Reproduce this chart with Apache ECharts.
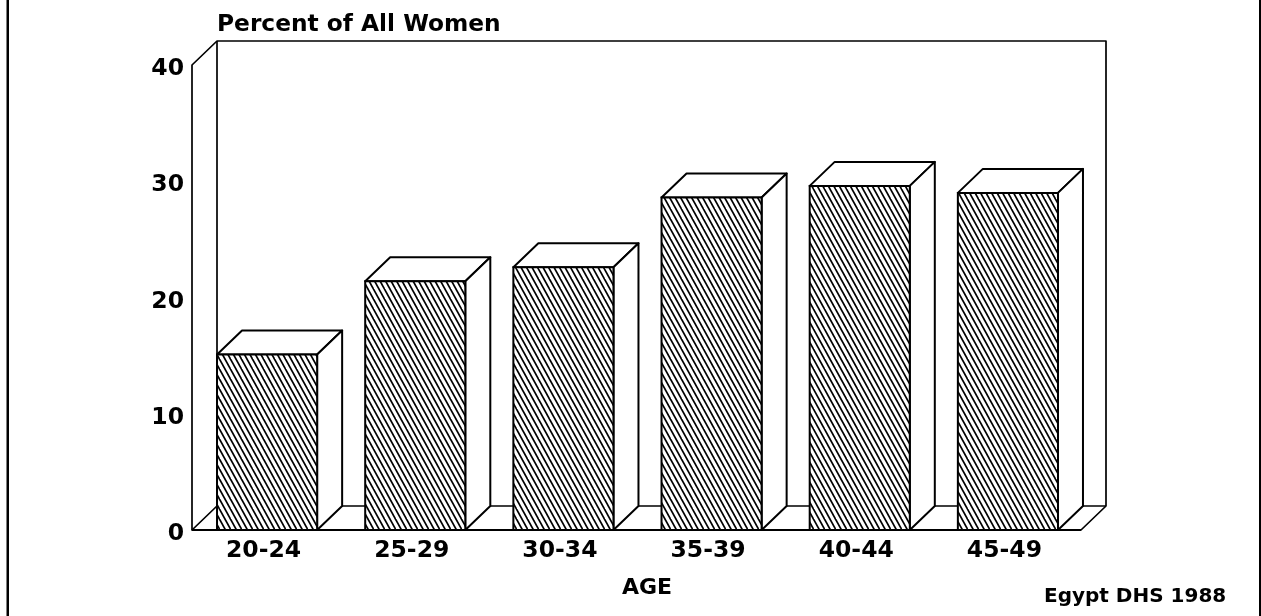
<!DOCTYPE html>
<html>
<head>
<meta charset="utf-8">
<style>html,body{margin:0;padding:0;background:#fff}#c{width:1261px;height:616px}</style>
<script src="https://cdn.jsdelivr.net/npm/echarts@6/dist/echarts.min.js"></script>
</head>
<body>
<div id="c"></div>
<script>
const categories = ['20-24', '25-29', '30-34', '35-39', '40-44', '45-49'];
const percentValues = [15.1, 21.4, 22.6, 28.6, 29.6, 29.0];
const yTicks = [0, 10, 20, 30, 40];
const yAxisTitle = 'Percent of All Women';
const xAxisTitle = 'AGE';
const sourceNote = 'Egypt DHS 1988';

const DEPTH_X = 25, DEPTH_Y = 24, BAR_RATIO = 100 / 148;
const FONT = '"DejaVu Sans", sans-serif';
const INK = '#000';

function hatch() {
  const s = 11, t = 20;
  const cv = document.createElement('canvas');
  cv.width = s; cv.height = t;
  const g = cv.getContext('2d');
  g.fillStyle = '#fff'; g.fillRect(0, 0, s, t);
  g.strokeStyle = '#000'; g.lineWidth = 1.7;
  for (let k = -4; k <= 4; k++) {
    const x = k * s / 2;
    g.beginPath(); g.moveTo(x - s, -t); g.lineTo(x + 2 * s, 2 * t); g.stroke();
  }
  return cv;
}
const hatchTile = hatch();

const chart = echarts.init(document.getElementById('c'), null, { renderer: 'canvas' });

function poly(points, fill, lineWidth) {
  return {
    type: 'polygon',
    shape: { points },
    style: { fill: fill || 'none', stroke: INK, lineWidth: lineWidth || 1.7, lineJoin: 'round' }
  };
}

function renderWall(params, api) {
  const band = api.size([1, 0])[0];
  const b = api.coord([0, 0]);
  const t = api.coord([0, yTicks[yTicks.length - 1]]);
  const l = b[0] - band / 2;
  const r = l + band * categories.length;
  const by = b[1], ty = t[1];
  return {
    type: 'group',
    children: [
      poly([[l, by], [l, ty], [l + DEPTH_X, ty - DEPTH_Y], [r + DEPTH_X, ty - DEPTH_Y], [r + DEPTH_X, by - DEPTH_Y], [r, by]], '#fff'),
      { type: 'polyline', shape: { points: [[l, by], [l + DEPTH_X, by - DEPTH_Y], [r + DEPTH_X, by - DEPTH_Y]] }, style: { fill: 'none', stroke: INK, lineWidth: 1.7 } },
      { type: 'line', shape: { x1: l + DEPTH_X, y1: ty - DEPTH_Y, x2: l + DEPTH_X, y2: by - DEPTH_Y }, style: { stroke: INK, lineWidth: 1.7 } },
      { type: 'line', shape: { x1: l, y1: by, x2: r, y2: by }, style: { stroke: INK, lineWidth: 2 } }
    ]
  };
}

function renderBar(params, api) {
  const i = api.value(0);
  const top = api.coord([i, api.value(1)]);
  const base = api.coord([i, 0]);
  const w = api.size([1, 0])[0] * BAR_RATIO;
  const x0 = top[0] - w / 2 + 1, x1 = x0 + w;
  const y0 = top[1], y1 = base[1];
  return {
    type: 'group',
    children: [
      poly([[x0, y0], [x0 + DEPTH_X, y0 - DEPTH_Y], [x1 + DEPTH_X, y0 - DEPTH_Y], [x1, y0]], '#fff', 2),
      poly([[x1, y0], [x1 + DEPTH_X, y0 - DEPTH_Y], [x1 + DEPTH_X, y1 - DEPTH_Y], [x1, y1]], '#fff', 2),
      {
        type: 'rect',
        shape: { x: x0, y: y0, width: w, height: y1 - y0 },
        style: { fill: { image: hatchTile, repeat: 'repeat' }, stroke: INK, lineWidth: 2 }
      }
    ]
  };
}

chart.setOption({
  animation: false,
  backgroundColor: '#fff',
  grid: { left: 192, right: 180, top: 65, bottom: 86, containLabel: false },
  xAxis: {
    type: 'category',
    data: categories,
    axisLine: { show: false },
    axisTick: { show: false },
    axisLabel: { color: INK, fontFamily: FONT, fontWeight: 'bold', fontSize: 23.5, margin: 9, padding: [0, 5, 0, 0] }
  },
  yAxis: {
    type: 'value',
    min: 0,
    max: 40,
    interval: 10,
    axisLine: { show: false },
    axisTick: { show: false },
    splitLine: { show: false },
    axisLabel: { color: INK, fontFamily: FONT, fontWeight: 'bold', fontSize: 23.5, margin: 8, verticalAlign: 'top', lineHeight: 8 }
  },
  series: [
    {
      type: 'custom',
      name: 'wall',
      z: 1,
      silent: true,
      renderItem: renderWall,
      data: [[0, 0]],
      encode: { x: 0, y: 1 }
    },
    {
      type: 'custom',
      name: 'Percent of all women',
      z: 2,
      renderItem: renderBar,
      data: percentValues.map((v, i) => [i, v]),
      encode: { x: 0, y: 1 }
    }
  ],
  graphic: [
    { type: 'text', left: 217, top: 13, style: { text: yAxisTitle, fill: INK, font: 'bold 23.3px ' + FONT } },
    { type: 'text', left: 622, top: 577, style: { text: xAxisTitle, fill: INK, font: 'bold 22px ' + FONT } },
    { type: 'text', left: 1044, top: 587, style: { text: sourceNote, fill: INK, font: 'bold 20px ' + FONT } },
    { type: 'rect', shape: { x: 6.5, y: 0, width: 2.5, height: 616 }, style: { fill: INK } },
    { type: 'rect', shape: { x: 1259, y: 0, width: 2, height: 616 }, style: { fill: INK } }
  ]
});
</script>
</body>
</html>
